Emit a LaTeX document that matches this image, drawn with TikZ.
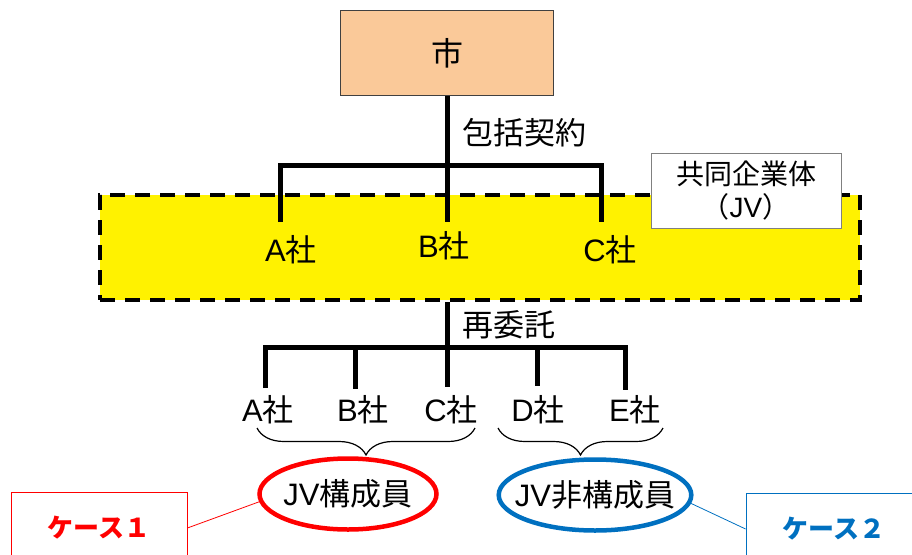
\documentclass[tikz,border=0pt]{standalone}
\usepackage{fontspec}
\setmainfont{Noto Sans CJK JP}
\newfontfamily\lat{Liberation Sans}
\usetikzlibrary{shapes.geometric,decorations.pathreplacing}
\definecolor{cityfill}{RGB}{250,201,153}
\definecolor{caseblue}{RGB}{0,112,192}
\begin{document}
\begin{tikzpicture}[x=1pt,y=-1pt,
    tree/.style={line width=5pt},
    co/.style={font=\fontsize{31}{34}\selectfont, inner sep=0pt},
    citybox/.style={draw=darkgray, fill=cityfill, line width=0.8pt, minimum width=213pt, minimum height=85pt, font=\fontsize{32}{36}\selectfont},
    zone/.style={fill=yellow, draw=black, line width=4pt, dash pattern=on 15pt off 10pt, minimum width=760pt, minimum height=105pt},
    jvbox/.style={draw=gray, fill=white, line width=0.8pt, minimum width=190pt, minimum height=75pt, align=center, font=\fontsize{28}{33}\selectfont},
    ring/.style={ellipse, fill=white, line width=4.5pt, minimum width=177pt, minimum height=71pt, inner xsep=-12pt, inner ysep=0pt, font=\fontsize{31}{34}\selectfont},
    brace/.style={decorate, decoration={brace, mirror, amplitude=27pt}, line width=1.2pt},
    casebox/.style={line width=0.8pt, minimum width=176pt, minimum height=72pt, font=\fontsize{26}{30}\selectfont\bfseries}
]
\useasboundingbox (0,0) rectangle (912,554);
\clip (0,0) rectangle (912,554);

% city and the JV zone
\node[citybox] (city) at (447,53) {市};
\node[zone] (jv) at (480,247.5) {};
\node[jvbox] (jvname) at (746,191) {共同企業体\\（{\lat JV}）};

\node[co] (A1) at (291,250) {{\lat A}社};
\node[co] (B1) at (444,246) {{\lat B}社};
\node[co] (C1) at (610,250) {{\lat C}社};

\coordinate (bA1) at (280,165);
\coordinate (bC1) at (601,165);
\coordinate (sA1) at (280,222);
\coordinate (sB1) at (447,222);
\coordinate (sC1) at (601,222);

\draw[tree] (city.south) -- (sB1);
\draw[tree] (sA1) -- (bA1) -- (bC1) -- (sC1);
\node[anchor=west, co] (contract) at (462,133) {包括契約};

% subcontract
\node[co] (A2) at (268,410) {{\lat A}社};
\node[co] (B2) at (363,410) {{\lat B}社};
\node[co] (C2) at (451,410) {{\lat C}社};
\node[co] (D2) at (538,410) {{\lat D}社};
\node[co] (E2) at (635,410) {{\lat E}社};

\foreach \n/\x/\y in {A/265/388,B/355/389,C/447/387,D/537/386,E/625/390} {
  \coordinate (b\n2) at (\x,347);
  \coordinate (s\n2) at (\x,\y);
}
\draw[tree] (jv.south -| city.south) -- (sC2);
\draw[tree] (sA2) -- (bA2) -- (bE2) -- (sE2);
\draw[tree] (bB2) -- (sB2);
\draw[tree] (bD2) -- (sD2);
\node[anchor=west, co] (resub) at (462,325) {再委託};

% groups
\coordinate (brL1) at (257,428);
\coordinate (brL2) at (475,428);
\coordinate (brR1) at (498,428);
\coordinate (brR2) at (663,428);
\draw[brace] (brL1) -- (brL2);
\draw[brace] (brR1) -- (brR2);

\node[ring, draw=red] (jvmem) at (348,494) {{\lat JV}構成員};
\node[ring, draw=caseblue] (jvnon) at (595,495) {{\lat JV}非構成員};

\node[casebox, draw=red, text=red] (case1) at (99,528) {ケース１};
\node[casebox, draw=caseblue, text=caseblue] (case2) at (834,529) {ケース２};

\draw[red, line width=0.8pt] (case1.east) -- (jvmem.185);
\draw[caseblue, line width=0.8pt] (jvnon.355) -- (case2.west);

\end{tikzpicture}
\end{document}
